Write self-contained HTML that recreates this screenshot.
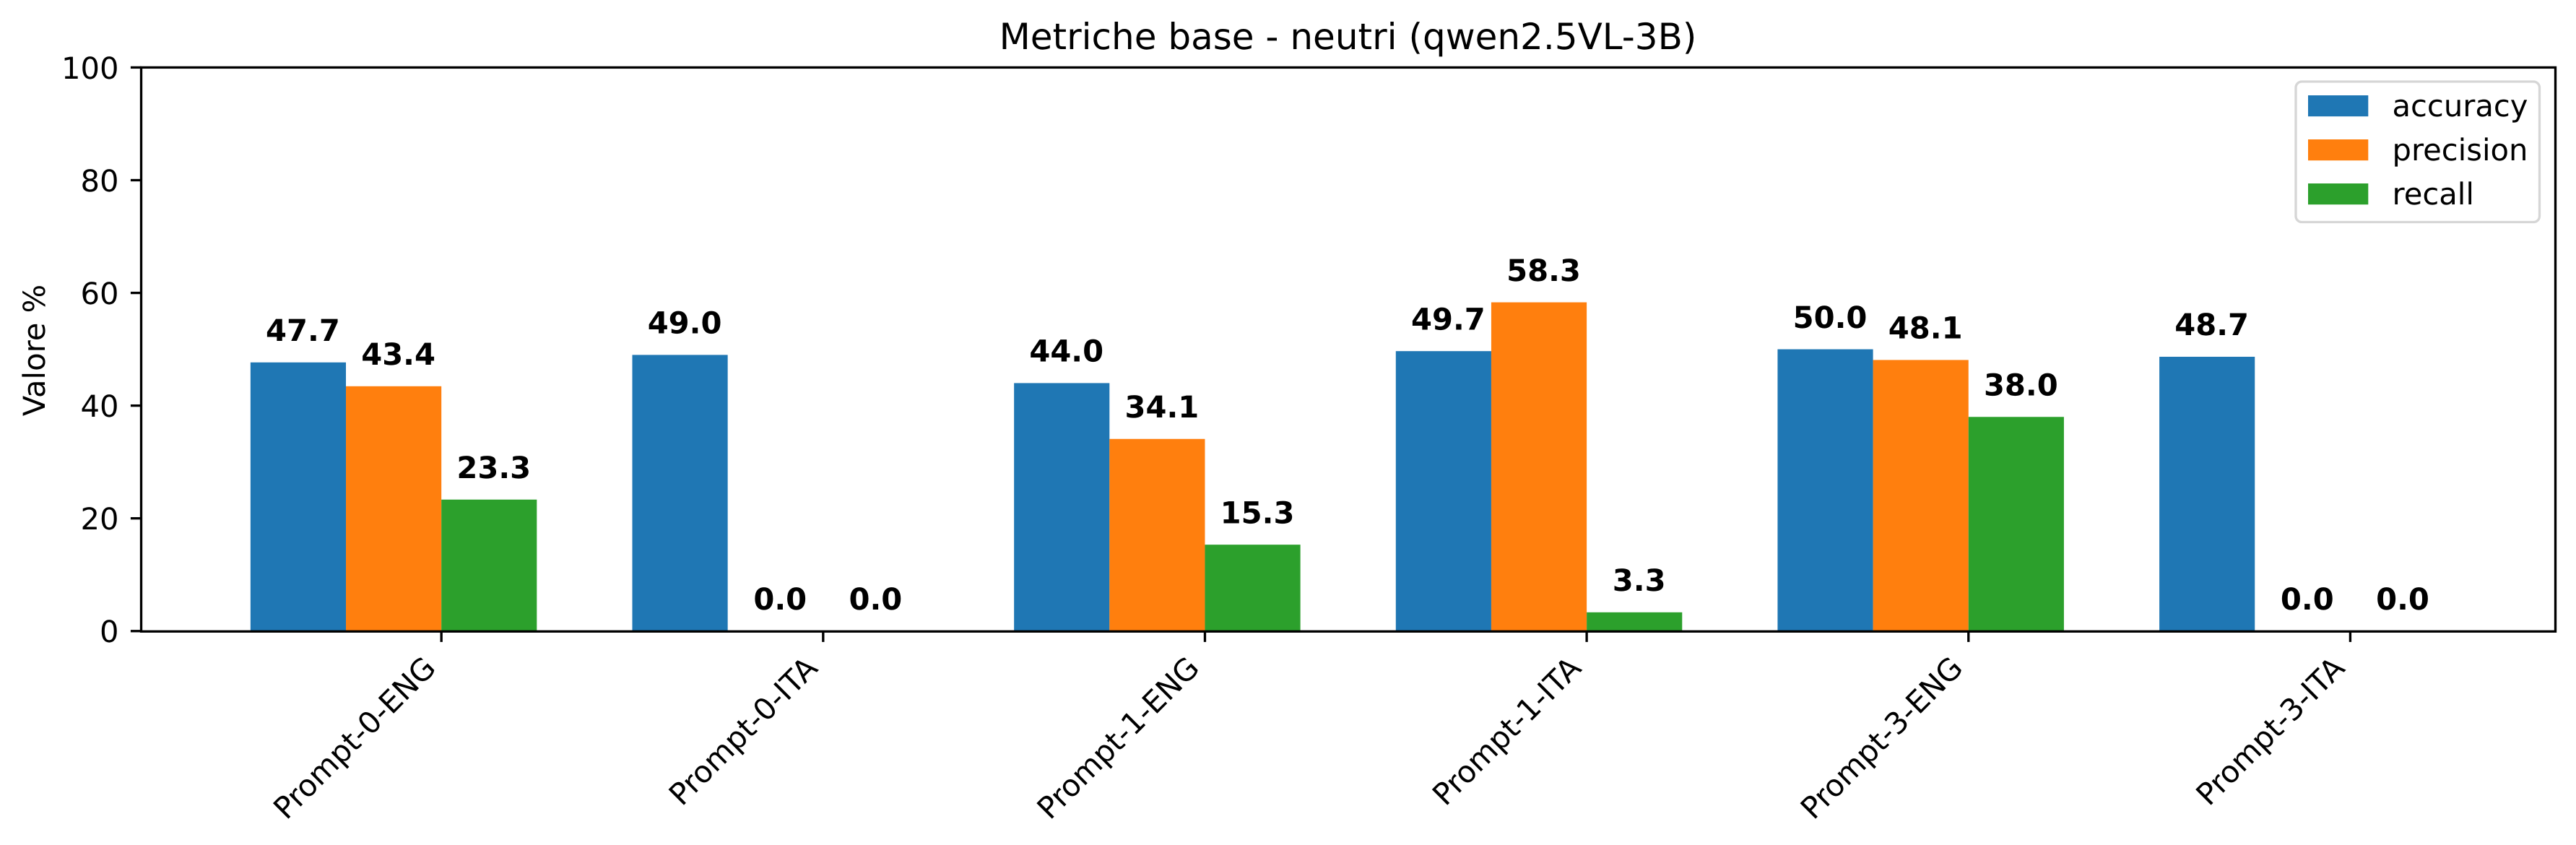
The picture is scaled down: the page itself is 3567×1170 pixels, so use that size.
<!DOCTYPE html>
<html lang="it">
<head>
<meta charset="utf-8">
<title>Metriche base - neutri (qwen2.5VL-3B)</title>
<style>
  html, body { margin: 0; padding: 0; background: #ffffff; }
  body { width: 3567px; height: 1170px; overflow: hidden; }
  svg { display: block; }
  text { font-family: "DejaVu Sans", "Liberation Sans", sans-serif; fill: #000000; text-rendering: geometricPrecision; }
</style>
</head>
<body>
<svg id="chart" xmlns="http://www.w3.org/2000/svg" width="3567" height="1170" viewBox="0 0 3567 1170">
  <rect x="0" y="0" width="3567" height="1170" fill="#ffffff"/>
  <text x="1866.5" y="68" font-size="50" text-anchor="middle">Metriche base - neutri (qwen2.5VL-3B)</text>
  <text transform="translate(62 485) rotate(-90)" font-size="41.67" text-anchor="middle">Valore %</text>
  <g id="bars"></g>
  <g id="value-labels"></g>
  <g id="y-axis"></g>
  <g id="x-axis"></g>
  <rect x="195.5" y="93.4" width="3343" height="780.9" fill="none" stroke="#000000" stroke-width="3.33" stroke-linejoin="miter"/>
  <g>
    <rect x="3179" y="113" width="337.5" height="194.5" rx="8.3" ry="8.3" fill="#ffffff" fill-opacity="0.8" stroke="#cccccc" stroke-opacity="0.8" stroke-width="3.33"/>
    <g>
      <rect x="3196" y="132" width="83.3" height="29.2" fill="#1f77b4"/>
      <text x="3312.5" y="161" font-size="41.67">accuracy</text>
    </g>
    <g>
      <rect x="3196" y="193" width="83.3" height="29.2" fill="#ff7f0e"/>
      <text x="3312.5" y="222" font-size="41.67">precision</text>
    </g>
    <g>
      <rect x="3196" y="254" width="83.3" height="29.2" fill="#2ca02c"/>
      <text x="3312.5" y="283" font-size="41.67">recall</text>
    </g>
  </g>
</svg>
<script>
const categories = ["Prompt-0-ENG", "Prompt-0-ITA", "Prompt-1-ENG", "Prompt-1-ITA", "Prompt-3-ENG", "Prompt-3-ITA"];
const accuracyValues = [47.67, 49.0, 44.0, 49.67, 50.0, 48.67];
const precisionValues = [43.44, 0.0, 34.09, 58.33, 48.1, 0.0];
const recallValues = [23.33, 0.0, 15.33, 3.33, 38.0, 0.0];
const yTickLabels = [0, 20, 40, 60, 80, 100];

const seriesNames = ["accuracy", "precision", "recall"];
const seriesValues = [accuracyValues, precisionValues, recallValues];
const seriesColors = ["#1f77b4", "#ff7f0e", "#2ca02c"];

const NS = "http://www.w3.org/2000/svg";
const plotLeft = 195.5, plotRight = 3538.5, plotTop = 93.4, plotBottom = 873.8, frameBottom = 874.3;
const xMin = -0.7863, xMax = 5.5374, yMin = 0, yMax = 100;
const barWidth = 0.25;
const tickLen = 14.6;

function xScale(v) { return plotLeft + (v - xMin) / (xMax - xMin) * (plotRight - plotLeft); }
function yScale(v) { return plotBottom - (v - yMin) / (yMax - yMin) * (plotBottom - plotTop); }
function seriesOffset(s) { return (s - 1.5) * barWidth; }

const barsGroup = document.getElementById("bars");
const labelsGroup = document.getElementById("value-labels");
const yGroup = document.getElementById("y-axis");
const xGroup = document.getElementById("x-axis");

seriesValues.forEach(function (values, s) {
  values.forEach(function (value, i) {
    const left = xScale(i + seriesOffset(s) - barWidth / 2);
    const right = xScale(i + seriesOffset(s) + barWidth / 2);
    const top = yScale(value);

    const bar = document.createElementNS(NS, "rect");
    
    
    bar.setAttribute("x", left);
    bar.setAttribute("y", top);
    bar.setAttribute("width", right - left);
    bar.setAttribute("height", Math.max(0, frameBottom - top));
    bar.setAttribute("fill", seriesColors[s]);
    barsGroup.appendChild(bar);

    const label = document.createElementNS(NS, "text");
    
    
    label.setAttribute("x", (left + right) / 2 + 6.5);
    label.setAttribute("y", top - 29.8);
    label.setAttribute("font-size", "41.67");
    label.setAttribute("font-weight", "700");
    label.setAttribute("text-anchor", "middle");
    label.textContent = value.toFixed(1);
    labelsGroup.appendChild(label);
  });
});

yTickLabels.forEach(function (tick) {
  const y = yScale(tick);

  const mark = document.createElementNS(NS, "line");
  
  
  mark.setAttribute("x1", plotLeft - tickLen);
  mark.setAttribute("x2", plotLeft);
  mark.setAttribute("y1", y);
  mark.setAttribute("y2", y);
  mark.setAttribute("stroke", "#000000");
  mark.setAttribute("stroke-width", "3.33");
  yGroup.appendChild(mark);

  const label = document.createElementNS(NS, "text");
  
  
  label.setAttribute("x", plotLeft - 31);
  label.setAttribute("y", y + 15.4);
  label.setAttribute("font-size", "41.67");
  label.setAttribute("text-anchor", "end");
  label.textContent = String(tick);
  yGroup.appendChild(label);
});

categories.forEach(function (category, i) {
  const x = xScale(i);

  const mark = document.createElementNS(NS, "line");
  
  
  mark.setAttribute("x1", x);
  mark.setAttribute("x2", x);
  mark.setAttribute("y1", frameBottom);
  mark.setAttribute("y2", frameBottom + tickLen);
  mark.setAttribute("stroke", "#000000");
  mark.setAttribute("stroke-width", "3.33");
  xGroup.appendChild(mark);

  const label = document.createElementNS(NS, "text");
  
  
  label.setAttribute("transform", "translate(" + (x - 5.5) + " " + (frameBottom + 53) + ") rotate(-45)");
  label.setAttribute("font-size", "41.67");
  label.setAttribute("text-anchor", "end");
  label.textContent = category;
  xGroup.appendChild(label);
});
</script>
</body>
</html>
